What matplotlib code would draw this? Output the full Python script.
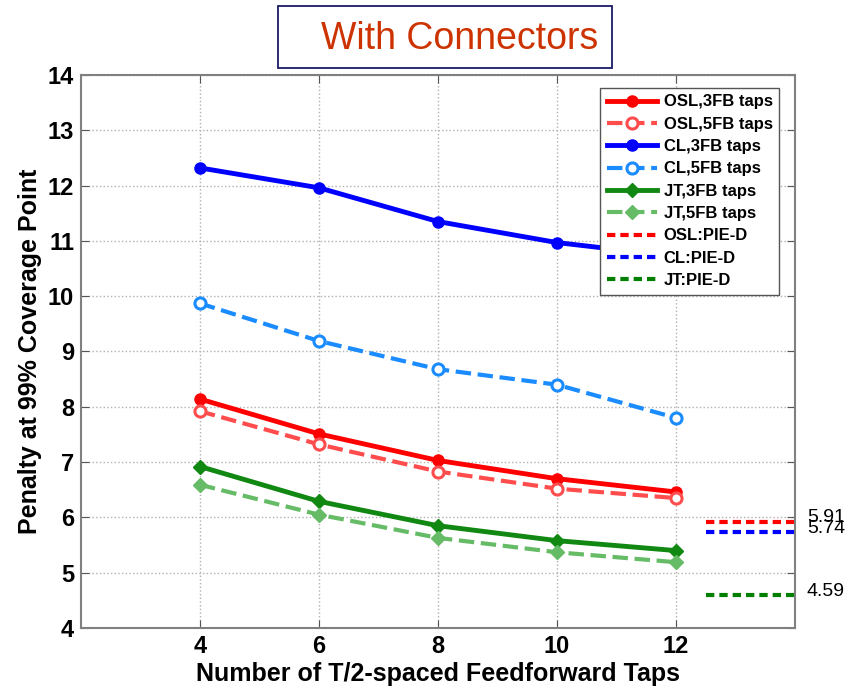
import matplotlib
matplotlib.use("Agg")
import matplotlib.pyplot as plt
from matplotlib.patches import Rectangle

plt.rcParams['font.family'] = ['Liberation Sans', 'DejaVu Sans']

# data
taps = [4, 6, 8, 10, 12]
osl_3fb = [8.14, 7.51, 7.03, 6.70, 6.46]
osl_5fb = [7.92, 7.32, 6.83, 6.52, 6.35]
cl_3fb = [12.32, 11.96, 11.35, 10.97, 10.72]
cl_5fb = [9.87, 9.19, 8.68, 8.40, 7.80]
jt_3fb = [6.92, 6.29, 5.85, 5.58, 5.40]
jt_5fb = [6.59, 6.05, 5.63, 5.37, 5.19]

pie_d_names = ['OSL:PIE-D', 'CL:PIE-D', 'JT:PIE-D']
pie_d_values = [5.91, 5.74, 4.59]
pie_d_colors = ['#ff0000', '#0000ff', '#007f00']

fig = plt.figure(figsize=(8.57, 6.88), dpi=100)
ax = fig.add_axes([0.0945, 0.0872, 0.833, 0.8038])

ax.plot(taps, osl_3fb, '-o', color='#ff0000', lw=3.5, ms=8,
        label='OSL,3FB taps')
ax.plot(taps, osl_5fb, '--o', color='#ff4d4d', lw=3, ms=8, mfc='white',
        mew=2.2, label='OSL,5FB taps')
ax.plot(taps, cl_3fb, '-o', color='#0000ff', lw=3.5, ms=8,
        label='CL,3FB taps')
ax.plot(taps, cl_5fb, '--o', color='#1a8cff', lw=3, ms=8, mfc='white',
        mew=2.2, label='CL,5FB taps')
ax.plot(taps, jt_3fb, '-D', color='#118811', lw=3.5, ms=7,
        label='JT,3FB taps')
ax.plot(taps, jt_5fb, '--D', color='#66bb66', lw=3, ms=7,
        label='JT,5FB taps')

for name, val, col in zip(pie_d_names, pie_d_values, pie_d_colors):
    ax.plot([12.5, 14], [val, val], '--', color=col, lw=3,
            dashes=(2, 1.2), label=name)

# value labels to the right of the axes (they overlap in the original too)
ax.text(14.2, 6.0, '5.91', fontsize=14, va='center', color='black')
ax.text(14.2, 5.8, '5.74', fontsize=14, va='center', color='black')
ax.text(14.2, 4.66, '4.59', fontsize=14, va='center', color='black')

ax.set_xlim(2, 14)
ax.set_ylim(4, 14)
ax.set_xticks(taps)
ax.set_yticks(range(4, 15))
ax.grid(True, linestyle=':', color='#b0b0b0', lw=1)
ax.tick_params(direction='in', length=6, color='#555555', right=True,
               top=True, labelsize=17, pad=5)
for lbl in ax.get_xticklabels() + ax.get_yticklabels():
    lbl.set_fontweight('bold')
for sp in ax.spines.values():
    sp.set_color('#808080')
    sp.set_linewidth(1.5)

ax.set_xlabel('Number of T/2-spaced Feedforward Taps', fontsize=18,
              fontweight='bold', labelpad=3)
ax.set_ylabel('Penalty at 99% Coverage Point', fontsize=18,
              fontweight='bold', labelpad=4)

leg = ax.legend(loc='upper right', bbox_to_anchor=(0.983, 0.983),
                prop={'weight': 'bold', 'size': 12},
                handlelength=3.0, labelspacing=0.44, borderpad=0.4,
                handletextpad=0.4, borderaxespad=0.2, fancybox=False,
                framealpha=1)
leg.get_frame().set_edgecolor('#555555')

# title box
fig.patches.append(Rectangle((0.3244, 0.901), 0.3897, 0.091,
                             transform=fig.transFigure, fill=False,
                             edgecolor='#1a1a66', lw=1.3))
fig.text(0.536, 0.944, 'With Connectors', fontsize=27, color='#cc3300',
         ha='center', va='center')

fig.savefig('out.png', dpi=100)
